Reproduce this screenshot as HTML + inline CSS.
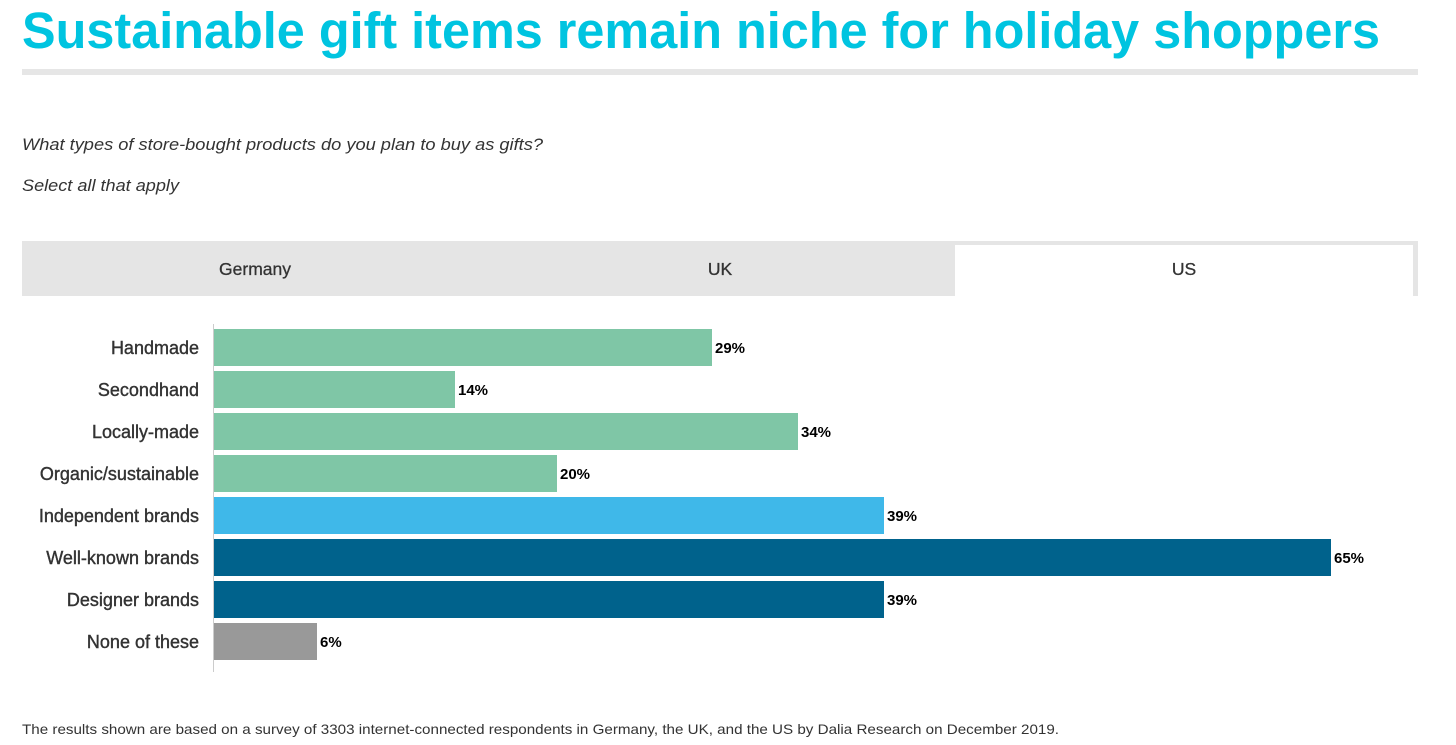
<!DOCTYPE html>
<html><head><meta charset="utf-8"><style>
html,body{margin:0;padding:0;background:#fff;}
svg{display:block;font-family:"Liberation Sans",sans-serif;}
</style></head><body>
<svg width="1456" height="745" viewBox="0 0 1456 745" xmlns="http://www.w3.org/2000/svg">
<text x="22" y="48" font-size="51" font-weight="bold" fill="#00c4e0" textLength="1358" lengthAdjust="spacingAndGlyphs">Sustainable gift items remain niche for holiday shoppers</text>
<rect x="22" y="69" width="1396" height="6" fill="#e6e6e6"/>
<text x="22" y="150" font-size="17" font-style="italic" fill="#333" textLength="521" lengthAdjust="spacingAndGlyphs">What types of store-bought products do you plan to buy as gifts?</text>
<text x="22" y="191" font-size="17" font-style="italic" fill="#333" textLength="157" lengthAdjust="spacingAndGlyphs">Select all that apply</text>
<rect x="22" y="241" width="1396" height="55" fill="#e5e5e5"/>
<rect x="955" y="245" width="458" height="51" fill="#fff"/>
<g font-size="17.5" fill="#333" text-anchor="middle" stroke="#333" stroke-width="0.3">
<text x="255" y="275">Germany</text><text x="720" y="275">UK</text><text x="1184" y="275">US</text>
</g>
<line x1="213.5" y1="324" x2="213.5" y2="672" stroke="#ccc" stroke-width="1"/>
<g font-size="18" fill="#333" text-anchor="end" stroke="#333" stroke-width="0.4">
<text x="199" y="354">Handmade</text>
<text x="199" y="396">Secondhand</text>
<text x="199" y="438">Locally-made</text>
<text x="199" y="480">Organic/sustainable</text>
<text x="199" y="522">Independent brands</text>
<text x="199" y="564">Well-known brands</text>
<text x="199" y="606">Designer brands</text>
<text x="199" y="648">None of these</text>
</g>
<g>
<rect x="214" y="329" width="498" height="37" fill="#7fc6a6"/>
<rect x="214" y="371" width="241" height="37" fill="#7fc6a6"/>
<rect x="214" y="413" width="584" height="37" fill="#7fc6a6"/>
<rect x="214" y="455" width="343" height="37" fill="#7fc6a6"/>
<rect x="214" y="497" width="670" height="37" fill="#3fb8e9"/>
<rect x="214" y="539" width="1117" height="37" fill="#00628c"/>
<rect x="214" y="581" width="670" height="37" fill="#00628c"/>
<rect x="214" y="623" width="103" height="37" fill="#999"/>
</g>
<g font-size="15" fill="#000" font-weight="bold">
<text x="715" y="353">29%</text>
<text x="458" y="395">14%</text>
<text x="801" y="437">34%</text>
<text x="560" y="479">20%</text>
<text x="887" y="521">39%</text>
<text x="1334" y="563">65%</text>
<text x="887" y="605">39%</text>
<text x="320" y="647">6%</text>
</g>
<text x="22" y="734" font-size="14" fill="#333" textLength="1037" lengthAdjust="spacingAndGlyphs">The results shown are based on a survey of 3303 internet-connected respondents in Germany, the UK, and the US by Dalia Research on December 2019.</text>
</svg>
</body></html>
